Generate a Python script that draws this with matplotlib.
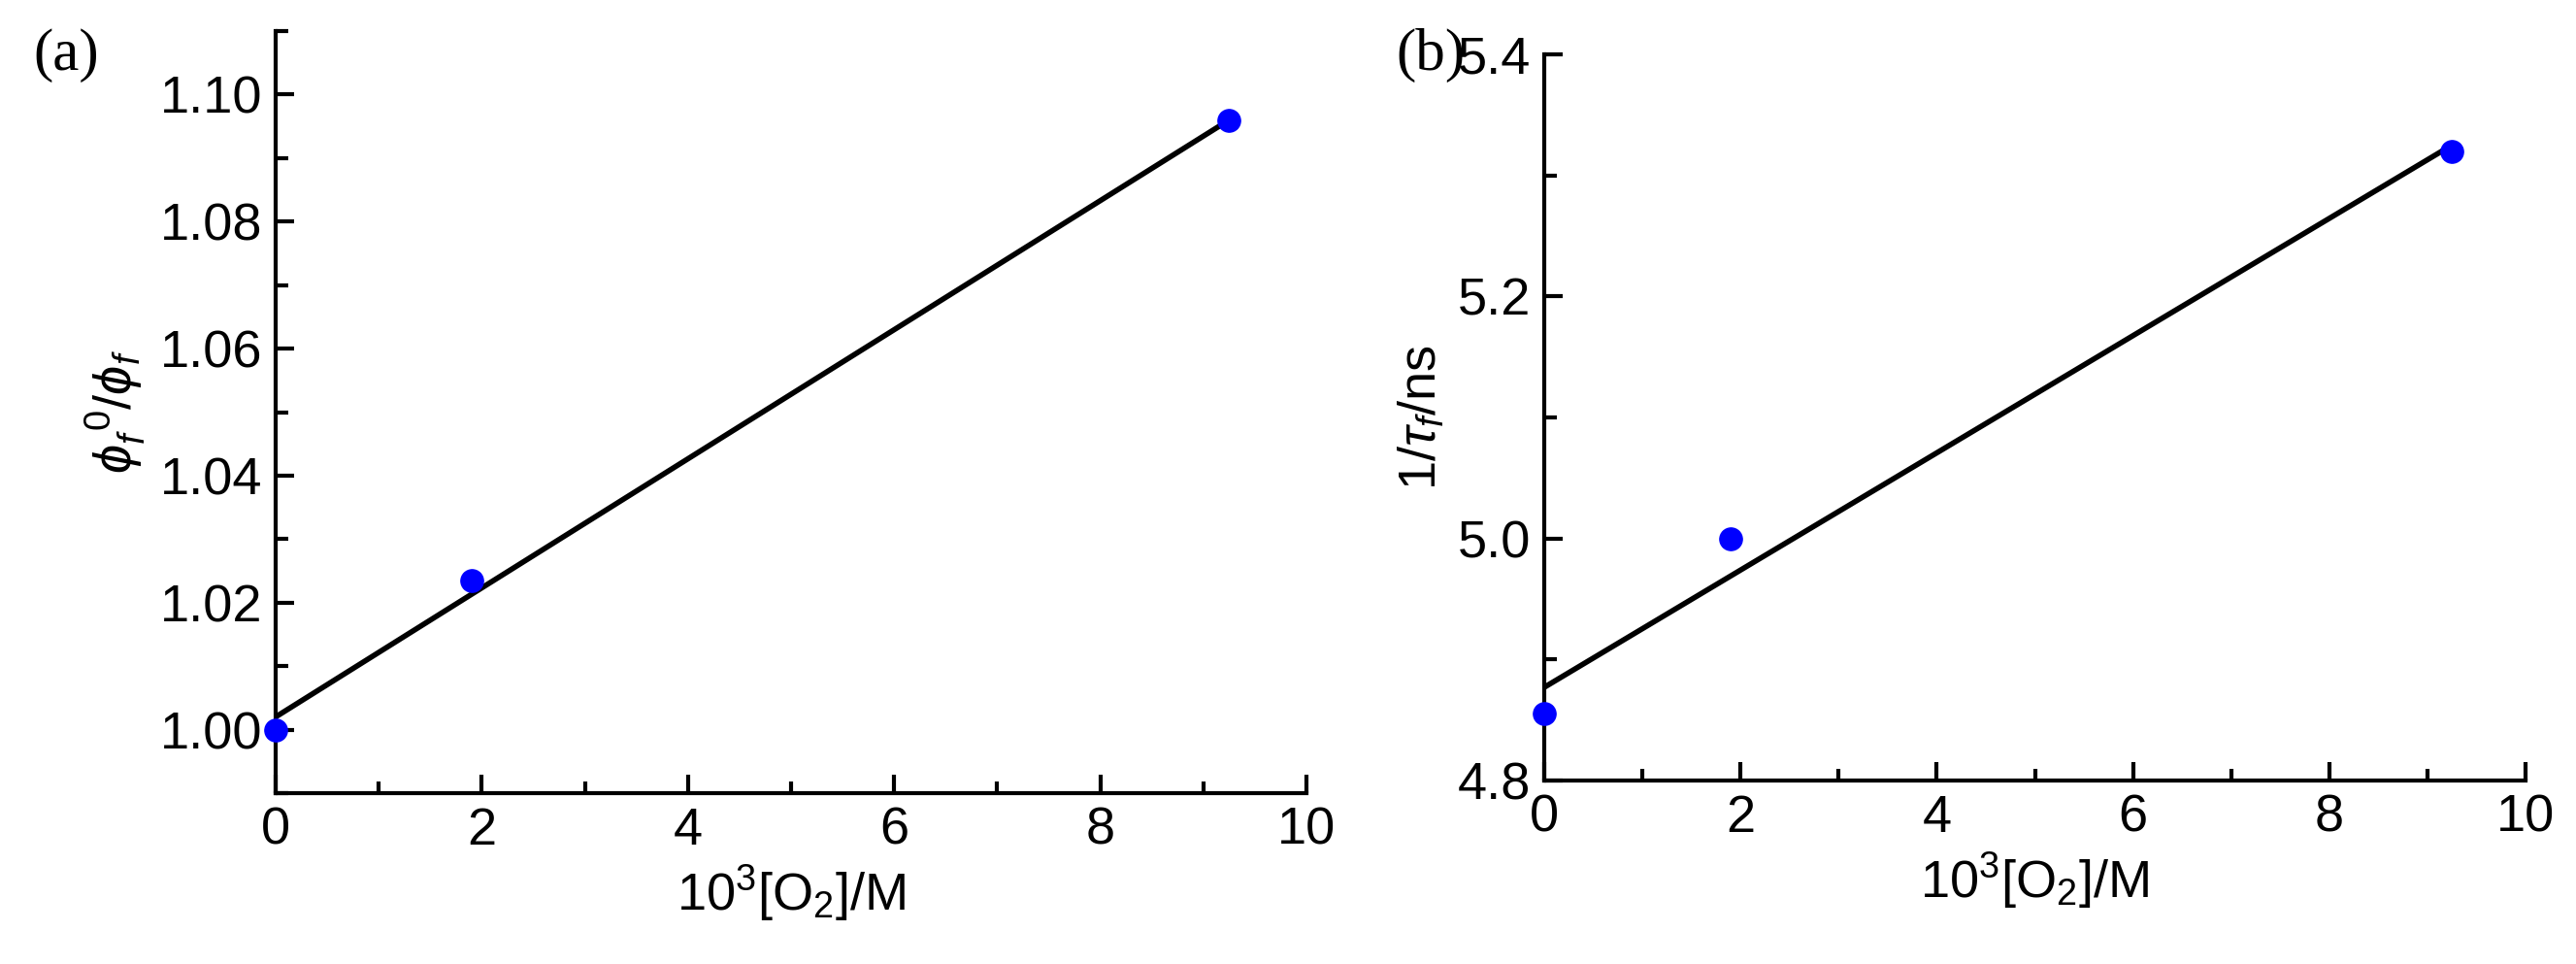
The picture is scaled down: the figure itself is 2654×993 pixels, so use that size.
import matplotlib
matplotlib.use("Agg")
import matplotlib.pyplot as plt
import numpy as np
from matplotlib.ticker import MultipleLocator

plt.rcParams['font.family'] = ['Liberation Sans', 'DejaVu Sans']
plt.rcParams['mathtext.fontset'] = 'custom'
plt.rcParams['mathtext.rm'] = 'Liberation Sans'
plt.rcParams['mathtext.it'] = 'Liberation Sans:italic'

# --- data ---
o2 = [0.0, 1.9, 9.25]
phi_ratio = [1.000, 1.0235, 1.096]
phi_fit = [1.002, 1.096]
inv_tau = [4.855, 5.000, 5.320]
tau_fit = [4.877, 5.325]
fit_x = [0.0, 9.25]

W, H = 2654, 993
fig = plt.figure(figsize=(W / 100, H / 100), dpi=100)
ax_a = fig.add_axes([284 / W, 1 - 817 / H, (1346 - 284) / W, (817 - 32) / H])
ax_b = fig.add_axes([1591 / W, 1 - 804 / H, (2602 - 1591) / W, (804 - 56) / H])

FS = 39

def style(ax, ylim, ymaj, ymin):
    ax.set_xlim(0, 10)
    ax.set_ylim(*ylim)
    ax.xaxis.set_major_locator(MultipleLocator(2))
    ax.xaxis.set_minor_locator(MultipleLocator(1))
    ax.yaxis.set_major_locator(MultipleLocator(ymaj))
    ax.yaxis.set_minor_locator(MultipleLocator(ymin))
    for s in ['top', 'right']:
        ax.spines[s].set_visible(False)
    for s in ['left', 'bottom']:
        ax.spines[s].set_linewidth(3)
    ax.tick_params(which='both', direction='in', width=3, labelsize=FS, pad=10)
    ax.tick_params(which='major', length=14)
    ax.tick_params(which='minor', length=9)
    ax.set_xlabel('10$^3$[O$_2$]/M', fontsize=FS, labelpad=6)

ax_a.plot(fit_x, phi_fit, color='black', lw=4, zorder=2)
ax_a.scatter(o2, phi_ratio, s=280, color='#0000ff', zorder=3, clip_on=False)
style(ax_a, (0.99, 1.11), 0.02, 0.01)
ax_a.set_yticks([1.00, 1.02, 1.04, 1.06, 1.08, 1.10])
ax_a.yaxis.set_major_formatter(matplotlib.ticker.FormatStrFormatter('%.2f'))
ax_a.set_ylabel(r'$\phi_f^{\ 0}/\phi_f$', fontsize=FS, labelpad=8)

ax_b.plot(fit_x, tau_fit, color='black', lw=4, zorder=2)
ax_b.scatter(o2, inv_tau, s=280, color='#0000ff', zorder=3, clip_on=False)
style(ax_b, (4.8, 5.4), 0.2, 0.1)
ax_b.yaxis.set_major_formatter(matplotlib.ticker.FormatStrFormatter('%.1f'))
ax_b.set_ylabel(r'1/$\tau_f$/ns', fontsize=FS, labelpad=8)

fig.text(34 / W, 1 - 57 / H, '(a)', fontsize=44, family='Liberation Serif', va='center')
fig.text(1438 / W, 1 - 57 / H, '(b)', fontsize=44, family='Liberation Serif', va='center')

fig.savefig('out.png', dpi=100, facecolor='white')
